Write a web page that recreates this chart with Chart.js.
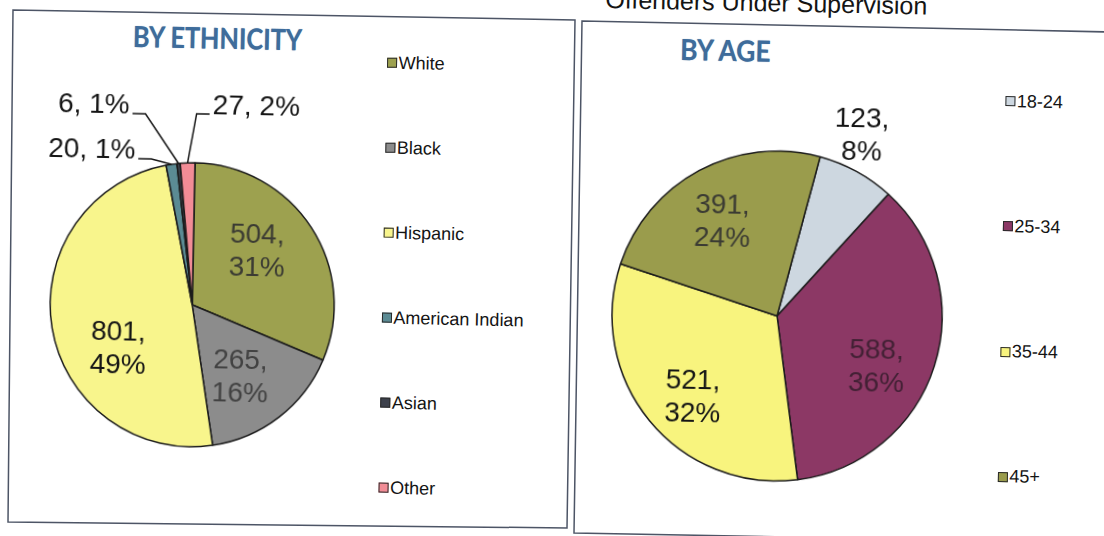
<!DOCTYPE html>
<html lang="en">
<head>
<meta charset="UTF-8">
<title>Offenders Under Supervision</title>
<script src="https://cdn.jsdelivr.net/npm/chart.js"></script>
<style>
  body { margin: 0; background: #fff; overflow: hidden; }
  #frames { position: absolute; left: 0; top: 0; }
  #page {
    position: absolute; left: 0; top: 0; width: 1104px; height: 536px;
    transform: rotate(1.15deg); transform-origin: 552px 268px;
    font-family: "Liberation Sans", Arial, sans-serif; color: #141414;
  }
  .heading { position: absolute; left: 561px; top: -14px; width: 400px; text-align: center; font-size: 25px; line-height: 25px; }
  .title {
    position: absolute; font-family: Lato, sans-serif; font-weight: 700; font-size: 29px; line-height: 29px;
    color: #3e6c9b; white-space: nowrap; text-shadow: 0 0 1px rgba(62,108,155,0.6);
  }
  .legend div { position: absolute; height: 24px; display: flex; align-items: center; font-size: 18px; white-space: nowrap; }
  .legend span { display: inline-block; width: 10px; height: 10px; box-sizing: border-box; border: 1.5px solid #2b2b2b; margin-right: 2px; }
  canvas { position: absolute; top: 0; }
</style>
</head>
<body>
<svg id="frames" width="1104" height="536">
  <polygon points="13,10 575,20 567,528 8,522" fill="none" stroke="#4d5566" stroke-width="1.5"/>
  <polygon points="582,21 1110,32 1110,543 574,533" fill="none" stroke="#4d5566" stroke-width="1.5"/>
</svg>
<div id="page">
  <div class="heading">Offenders Under Supervision</div>
  <div class="title" id="t1">BY ETHNICITY</div>
  <div class="title" id="t2">BY AGE</div>
  <div class="legend" id="leg1"></div>
  <div class="legend" id="leg2"></div>
  <canvas id="ethnicity" width="570" height="536" style="left:0"></canvas>
  <canvas id="age" width="530" height="536" style="left:574px"></canvas>
</div>
<script>
  // ethnicity pie
  const ethLabels = ["White", "Black", "Hispanic", "American Indian", "Asian", "Other"];
  const ethValues = [504, 265, 801, 20, 6, 27];
  const ethPct = [31, 16, 49, 1, 1, 2];
  const ethColors = ["#9da14f", "#8c8c8c", "#f8f58c", "#5b8b94", "#3c404b", "#f28c96"];

  // age pie
  const ageLabels = ["18-24", "25-34", "35-44", "45+"];
  const ageValues = [123, 588, 521, 391];
  const agePct = [8, 36, 32, 24];
  const ageColors = ["#cdd7e0", "#8c3865", "#f8f47e", "#9a9c4c"];

  const sliceLabels = {
    id: 'sliceLabels',
    afterDatasetsDraw(chart, args, opts) {
      const ctx = chart.ctx;
      const ds = chart.data.datasets[0];
      const arcs = chart.getDatasetMeta(0).data;
      ctx.save();
      ctx.font = '28px "Liberation Sans", Arial, sans-serif';
      ctx.textAlign = 'center';
      ctx.textBaseline = 'alphabetic';
      ctx.strokeStyle = '#151515';
      ctx.lineWidth = 1.5;
      arcs.forEach((arc, i) => {
        const p = arc.getProps(['x', 'y', 'startAngle', 'endAngle', 'outerRadius'], true);
        const mid = (p.startAngle + p.endAngle) / 2;
        const place = opts.place[i];
        const pct = opts.pct[i] + '%';
        ctx.fillStyle = opts.ink[i];
        if (place.leader) {
          const text = ds.data[i] + ', ' + pct;
          const tx = p.x + place.dx, ty = p.y + place.dy;
          ctx.fillText(text, tx, ty);
          const w = ctx.measureText(text).width;
          const dir = place.leader === 'right' ? 1 : -1;
          const sx = tx + dir * (w / 2 + 3);
          ctx.beginPath();
          ctx.moveTo(sx, ty);
          ctx.lineTo(sx + dir * 13, ty);
          ctx.lineTo(p.x + Math.cos(mid) * p.outerRadius, p.y + Math.sin(mid) * p.outerRadius);
          ctx.stroke();
        } else {
          const a = mid + place.shift * Math.PI / 180;
          const r = p.outerRadius * place.frac;
          const cx = p.x + Math.cos(a) * r, cy = p.y + Math.sin(a) * r;
          ctx.fillText(ds.data[i] + ',', cx, cy - 6.5);
          ctx.fillText(pct, cx, cy + 26.5);
        }
      });
      ctx.restore();
    }
  };

  function pieChart(id, labels, values, colors, radius, rotation, padding, labelOpts) {
    return new Chart(document.getElementById(id), {
      type: 'pie',
      data: {
        labels: labels,
        datasets: [{
          data: values,
          backgroundColor: colors,
          borderColor: '#1b1b1b',
          borderWidth: 1.5,
          radius: radius
        }]
      },
      options: {
        responsive: false,
        animation: false,
        events: [],
        rotation: rotation,
        layout: { padding: padding },
        plugins: {
          legend: { display: false },
          tooltip: { enabled: false },
          sliceLabels: labelOpts
        }
      },
      plugins: [sliceLabels]
    });
  }

  pieChart('ethnicity', ethLabels, ethValues, ethColors, 142, 0,
    { left: 43, right: 227, top: 162, bottom: 74 },
    {
      pct: ethPct,
      ink: ['#3b3b33', 'rgba(45,45,45,0.78)', '#151515', '#151515', '#151515', '#151515'],
      place: [
        { frac: 0.60, shift: -7.5 },
        { frac: 0.60, shift: 3.4 },
        { frac: 0.60, shift: -20 },
        { leader: 'right', dx: -103.4, dy: -145 },
        { leader: 'right', dx: -102.3, dy: -190 },
        { leader: 'left', dx: 60.2, dy: -191 }
      ]
    });

  pieChart('age', ageLabels, ageValues, ageColors, 165, 14,
    { left: 34, right: 156, top: 141.5, bottom: 54.5 },
    {
      pct: agePct,
      ink: ['#151515', 'rgba(45,25,38,0.78)', '#151515', '#3b3b33'],
      place: [
        { frac: 1.22, shift: -3.9 },
        { frac: 0.67, shift: 8.5 },
        { frac: 0.70, shift: -3.7 },
        { frac: 0.67, shift: -1.5 }
      ]
    });

  function buildLegend(id, labels, colors, x, y0, step) {
    const box = document.getElementById(id);
    labels.forEach((name, i) => {
      const item = document.createElement('div');
      item.style.left = x + 'px';
      item.style.top = (y0 + i * step - 12) + 'px';
      const sw = document.createElement('span');
      sw.style.background = colors[i];
      item.appendChild(sw);
      item.appendChild(document.createTextNode(name));
      box.appendChild(item);
    });
  }
  buildLegend('leg1', ethLabels, ethColors, 382.5, 66, 85);
  buildLegend('leg2', ageLabels, ageColors, 1001.5, 92, 125.3);

  function placeTitle(id, cx, cy, width) {
    const el = document.getElementById(id);
    const s = width / el.offsetWidth;
    el.style.left = cx + 'px';
    el.style.top = cy + 'px';
    el.style.transform = 'translate(-50%, -50%) scaleX(' + s + ')';
  }
  placeTitle('t1', 213, 44, 169);
  placeTitle('t2', 721, 46, 90);
</script>
</body>
</html>
